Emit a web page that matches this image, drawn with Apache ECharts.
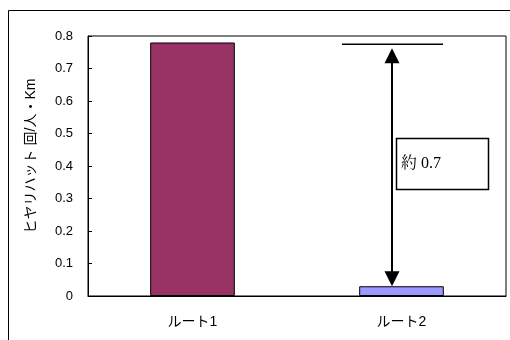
<!DOCTYPE html>
<html><head><meta charset="utf-8">
<script src="https://cdn.jsdelivr.net/npm/echarts@6/dist/echarts.min.js"></script>
<style>html,body{margin:0;padding:0;background:#fff}#c{width:510px;height:340px}</style>
</head><body><div id="c"></div>
<script>
var categories = ['ルート1', 'ルート2'];
var values = [0.78, 0.03];
var barColors = ['#993366', '#9999FF'];
var yTicks = [0, 0.1, 0.2, 0.3, 0.4, 0.5, 0.6, 0.7, 0.8];
var yName = 'ヒヤリハット 回/人・Km';
var refLevel = 0.775;   // horizontal reference line level
var noteText = '約 0.7';

var chart = echarts.init(document.getElementById('c'), null, {renderer: 'canvas'});
var font = '"Liberation Sans", "Noto Sans CJK JP", sans-serif';
chart.setOption({
  animation: false,
  grid: {left: 88, right: 4, top: 36, bottom: 44, show: true, borderColor: '#000', borderWidth: 1, backgroundColor: 'transparent'},
  xAxis: {
    type: 'category', data: categories,
    axisLine: {lineStyle: {color: '#000'}},
    axisTick: {inside: true, length: 4, lineStyle: {color: '#000'}},
    axisLabel: {color: '#000', fontSize: 14, fontFamily: font, margin: 19}
  },
  yAxis: {
    type: 'value', min: 0, max: yTicks[yTicks.length - 1], interval: 0.1,
    name: yName, nameLocation: 'middle', nameRotate: 90, nameGap: 50,
    nameTextStyle: {color: '#000', fontSize: 14, fontFamily: font, padding: [0, 0, 0, 20]},
    axisLine: {show: true, lineStyle: {color: '#000'}},
    axisTick: {show: true, inside: true, length: 4, lineStyle: {color: '#000'}},
    splitLine: {show: false},
    axisLabel: {color: '#000', fontSize: 13, fontFamily: font, margin: 15,
      formatter: function (v) { return String(Math.round(v * 10) / 10); }}
  },
  series: [{
    type: 'bar', barWidth: '40.5%',
    data: values.map(function (v, i) {
      return {value: v, itemStyle: {color: barColors[i], borderColor: '#000', borderWidth: 1}};
    })
  }]
});

function drawAnnotations() {
  var top = chart.convertToPixel({gridIndex: 0}, [1, refLevel]);
  var bot = chart.convertToPixel({gridIndex: 0}, [1, values[1]]);
  var cx = top[0];
  var ax = cx - 9.5;
  var els = [
    {type: 'rect', shape: {x: 8.5, y: 10.5, width: 520, height: 340}, style: {fill: 'none', stroke: '#000', lineWidth: 1}, z: 0},
    {type: 'line', shape: {x1: cx - 59.5, y1: top[1], x2: cx + 41.5, y2: top[1]}, style: {stroke: '#000', lineWidth: 1.5}, z: 10},
    {type: 'line', shape: {x1: ax, y1: top[1] + 12, x2: ax, y2: bot[1] - 12}, style: {stroke: '#000', lineWidth: 2}, z: 10},
    {type: 'polygon', shape: {points: [[ax, top[1] + 4], [ax - 7.5, top[1] + 19], [ax + 7.5, top[1] + 19]]}, style: {fill: '#000'}, z: 10},
    {type: 'polygon', shape: {points: [[ax, bot[1]], [ax - 7.5, bot[1] - 15], [ax + 7.5, bot[1] - 15]]}, style: {fill: '#000'}, z: 10},
    {type: 'rect', shape: {x: ax + 4.5, y: 138.5, width: 92, height: 51}, style: {fill: '#fff', stroke: '#000', lineWidth: 1.5}, z: 11},
    {type: 'text', x: ax + 9, y: 164, style: {text: noteText, fill: '#000', fontSize: 16, fontFamily: '"Liberation Serif", "Noto Serif CJK JP", "Noto Sans CJK JP", serif', verticalAlign: 'middle'}, z: 12}
  ];
  chart.setOption({graphic: {elements: els}});
}
drawAnnotations();
</script>
</body></html>
